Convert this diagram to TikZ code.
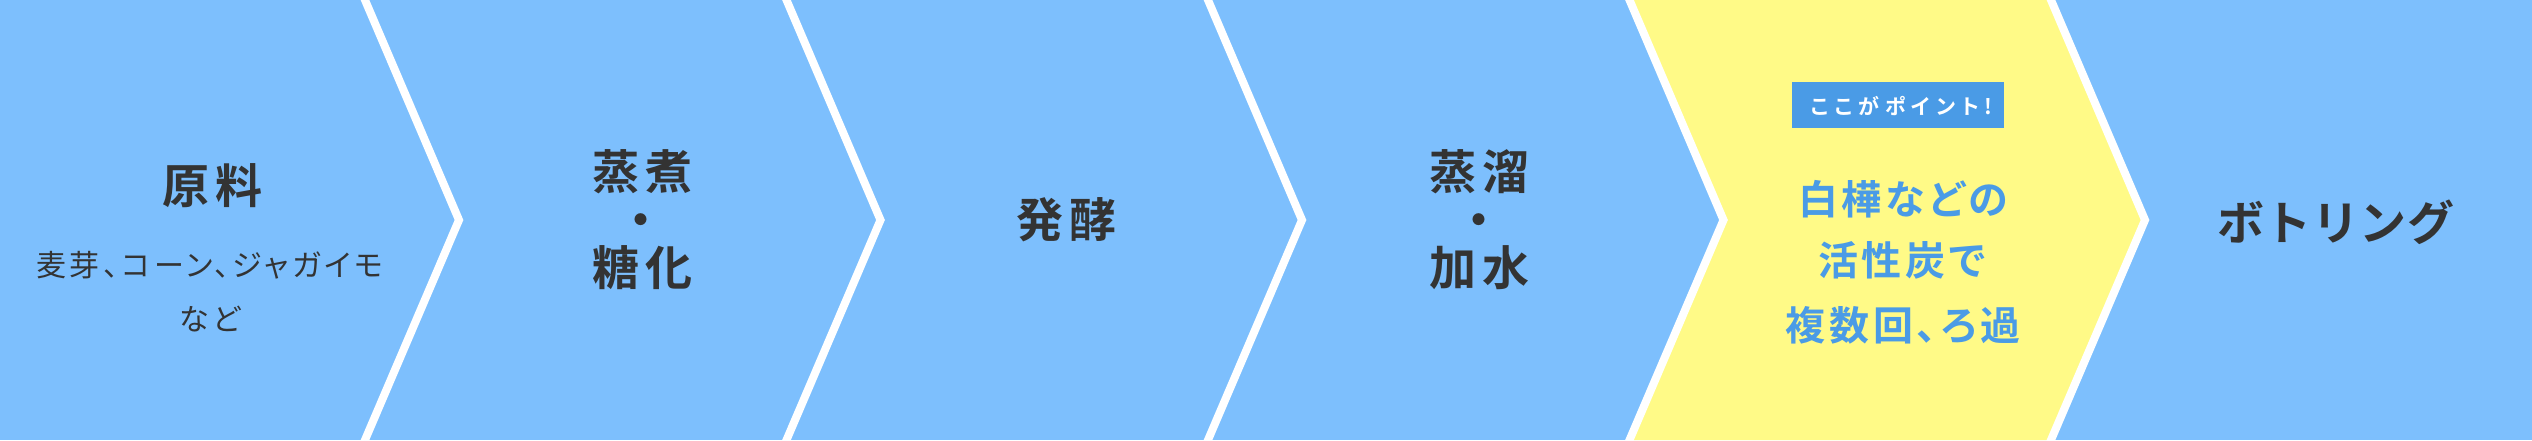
\documentclass[tikz,border=0pt]{standalone}
\usepackage{fontspec}
\newfontfamily\headfont{Noto Sans CJK JP Bold}[LetterSpace=13]
\newfontfamily\katafont{Noto Sans CJK JP Bold}[LetterSpace=1]
\newfontfamily\bluefont{Noto Sans CJK JP Bold}[LetterSpace=9.5,RawFeature=+palt]
\newfontfamily\badgefont{Noto Sans CJK JP Bold}[LetterSpace=28,RawFeature=+palt]
\newfontfamily\subfont{Noto Sans CJK JP}[LetterSpace=12,RawFeature=+palt]
\definecolor{bg}{HTML}{7DBFFD}
\definecolor{ylw}{HTML}{FFFA87}
\definecolor{ptblue}{HTML}{4A9BE6}
\definecolor{ink}{HTML}{333333}
\tikzset{
  sepline/.style={draw=white, line width=8pt, line join=miter},
  head/.style={anchor=base, inner sep=0pt, text=ink, font=\headfont\fontsize{47}{48}\selectfont, execute at end node={\kern-0.13em}},
  kata/.style={anchor=base, inner sep=0pt, text=ink, font=\katafont\fontsize{47}{48}\selectfont, execute at end node={\kern-0.01em}},
  subtext/.style={anchor=base, inner sep=0pt, text=ink, font=\subfont\fontsize{30}{30}\selectfont, execute at end node={\kern-0.12em}},
  bluetext/.style={anchor=base, inner sep=0pt, text=ptblue, font=\bluefont\fontsize{40}{40}\selectfont, execute at end node={\kern-0.095em}},
  badgebox/.style={fill=ptblue, inner sep=0pt, minimum width=212pt, minimum height=46pt},
  badgetext/.style={anchor=base, inner sep=0pt, text=white, font=\badgefont\fontsize{21}{22}\selectfont, execute at end node={\kern-0.28em}},
}
\begin{document}
\begin{tikzpicture}[x=1pt,y=-1pt]
\useasboundingbox (0,0) rectangle (2532,440);
\fill[bg] (0,0) rectangle (2532,440);
\fill[ylw] (1629.5,0) -- (2051,0) -- (2145,220) -- (2051,440) -- (1629.5,440) -- (1723.5,220) -- cycle;
\draw[sepline] (356.45,-20) -- (459,220) -- (356.45,460);
\draw[sepline] (777.95,-20) -- (880.5,220) -- (777.95,460);
\draw[sepline] (1199.45,-20) -- (1302,220) -- (1199.45,460);
\draw[sepline] (1620.95,-20) -- (1723.5,220) -- (1620.95,460);
\draw[sepline] (2042.45,-20) -- (2145,220) -- (2042.45,460);
% segment 1
\node[head] (genryo) at (209,203.8) {原料};
\node[subtext] (sub1) at (208,276.4) {麦芽、コーン、ジャガイモ};
\node[subtext] (sub2) at (208,330.4) {など};
% segment 2
\node[head] (joshu) at (639,189.8) {蒸煮};
\node[head] (dot1) at (638,237.8) {・};
\node[head] (toka) at (639,285.8) {糖化};
% segment 3
\node[head] (hakko) at (1063.5,237.8) {発酵};
% segment 4
\node[head] (joryu) at (1476,189.8) {蒸溜};
\node[head] (dot2) at (1476,237.8) {・};
\node[head] (kasui) at (1476,285.3) {加水};
% segment 5
\node[badgebox] (badge) at (1898,105) {};
\node[badgetext] (badgelabel) at (1899,114) {ここがポイント!};
\node[bluetext] (blue1) at (1901,214.2) {白樺などの};
\node[bluetext] (blue2) at (1900,275.2) {活性炭で};
\node[bluetext] (blue3) at (1901,340.2) {複数回、ろ過};
% segment 6
\node[kata] (bottling) at (2335.5,240.3) {ボトリング};
\end{tikzpicture}
\end{document}
